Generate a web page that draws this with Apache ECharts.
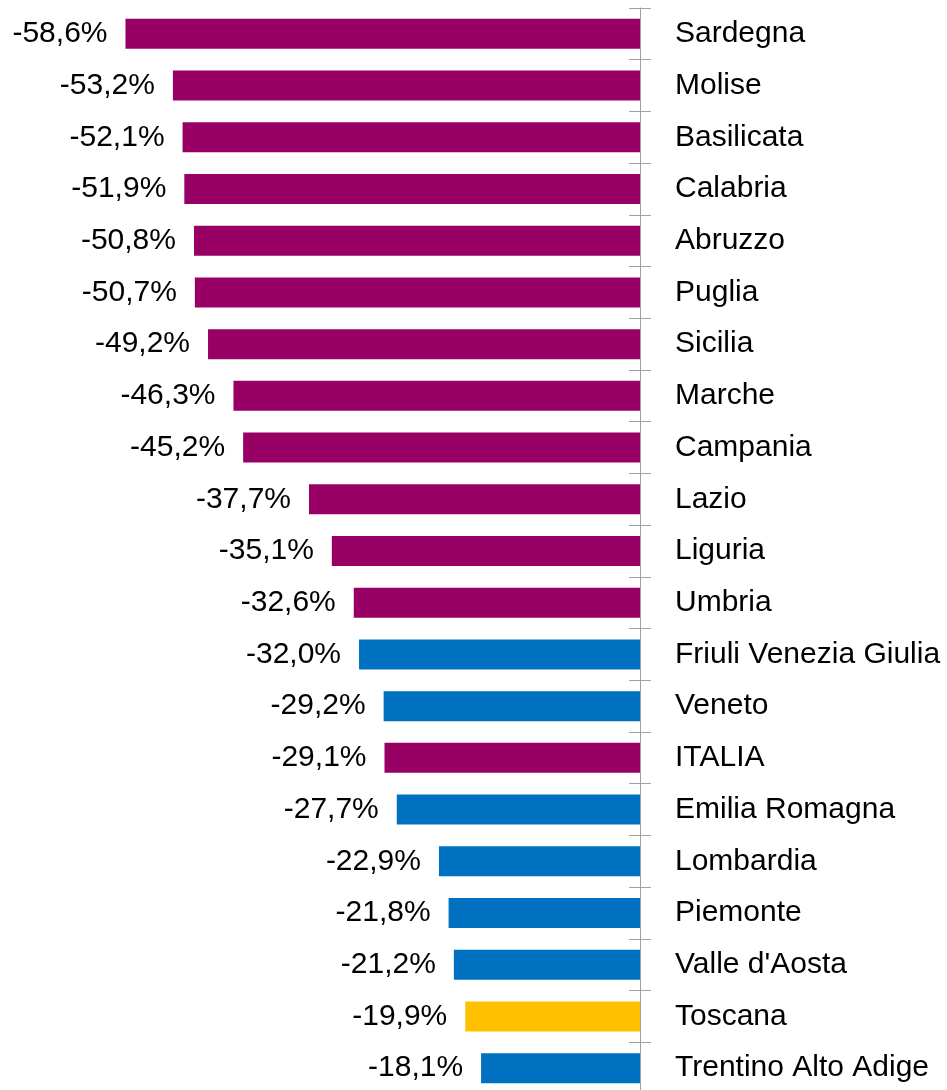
<!DOCTYPE html>
<html>
<head>
<meta charset="utf-8">
<script src="https://cdn.jsdelivr.net/npm/echarts@6/dist/echarts.min.js"></script>
<style>
html,body{margin:0;padding:0;background:#fff;}
#chart{width:947px;height:1090px;}
</style>
</head>
<body>
<div id="chart"></div>
<script>
var categories = ["Sardegna","Molise","Basilicata","Calabria","Abruzzo","Puglia","Sicilia","Marche","Campania","Lazio","Liguria","Umbria","Friuli Venezia Giulia","Veneto","ITALIA","Emilia Romagna","Lombardia","Piemonte","Valle d'Aosta","Toscana","Trentino Alto Adige"];
var values = [-58.6,-53.2,-52.1,-51.9,-50.8,-50.7,-49.2,-46.3,-45.2,-37.7,-35.1,-32.6,-32.0,-29.2,-29.1,-27.7,-22.9,-21.8,-21.2,-19.9,-18.1];
var groups = ["sud","sud","sud","sud","sud","sud","sud","sud","sud","sud","sud","sud","nord","nord","sud","nord","nord","nord","nord","toscana","nord"];
var groupColors = {sud:"#990066", nord:"#0070C0", toscana:"#FFC000"};

var FONT = "'Liberation Sans', Arial, sans-serif";
var FS = 30;

var chart = echarts.init(document.getElementById('chart'), null, {renderer:'canvas'});
var seriesData = values.map(function(v,i){
  return {value:v, itemStyle:{color:groupColors[groups[i]]}};
});
chart.setOption({
  animation:false,
  grid:{left:25.4, right:307, top:8, bottom:-4, containLabel:false, outerBoundsMode:'none'},
  xAxis:{type:'value', min:-70, max:0, show:false},
  yAxis:[{
    type:'category', data:categories, inverse:true, position:'right',
    axisLine:{show:true, onZero:false, lineStyle:{color:'#a0a0a0', width:1}},
    axisTick:{show:true, length:11, lineStyle:{color:'#a0a0a0', width:1}},
    axisLabel:{show:true, margin:35, color:'#000', fontSize:FS, fontFamily:FONT, padding:[4,0,0,0]},
    splitLine:{show:false}
  },{
    type:'category', data:categories, inverse:true, position:'right',
    axisLine:{show:false, onZero:false},
    axisTick:{show:true, inside:true, length:11, lineStyle:{color:'#a0a0a0', width:1}},
    axisLabel:{show:false},
    splitLine:{show:false}
  }],
  series:[{
    type:'bar', yAxisIndex:0, data:seriesData, barWidth:30,
    label:{show:true, position:'left', distance:18, color:'#000', fontSize:FS, fontFamily:FONT, padding:[4,0,0,0],
      formatter:function(p){return p.value.toFixed(1).replace('.',',')+'%';}}
  }]
});
</script>
</body>
</html>
